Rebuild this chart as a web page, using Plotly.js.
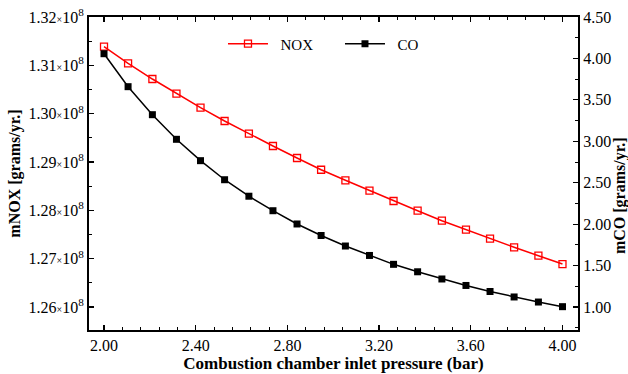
<!DOCTYPE html>
<html>
<head>
<meta charset="utf-8">
<script src="https://cdn.plot.ly/plotly-3.0.1.min.js"></script>
<style>html,body{margin:0;padding:0;background:#fff;}#chart{width:628px;height:374px;}</style>
</head>
<body>
<div id="chart"></div>
<script>
// Combustion chamber inlet pressure (bar): 20 points from 2.00 to 4.00
const pressure = [2.000, 2.105, 2.211, 2.316, 2.421, 2.526, 2.632, 2.737, 2.842, 2.947,
                  3.053, 3.158, 3.263, 3.368, 3.474, 3.579, 3.684, 3.789, 3.895, 4.000];
// mNOX [grams/yr.]
const nox = [1.31385e8, 1.31042e8, 1.30717e8, 1.30413e8, 1.30123e8, 1.29848e8, 1.29585e8, 1.29331e8, 1.29083e8, 1.28840e8,
             1.28621e8, 1.28406e8, 1.28193e8, 1.27992e8, 1.27785e8, 1.27599e8, 1.27413e8, 1.27235e8, 1.27061e8, 1.26889e8];
// mCO [grams/yr.]
const co = [4.057, 3.659, 3.321, 3.024, 2.766, 2.536, 2.337, 2.162, 2.002, 1.863,
            1.736, 1.622, 1.515, 1.425, 1.338, 1.260, 1.187, 1.121, 1.060, 1.004];
const noxTickVals = [1.26e8, 1.27e8, 1.28e8, 1.29e8, 1.30e8, 1.31e8, 1.32e8];
const noxTickMant = ["1.26", "1.27", "1.28", "1.29", "1.30", "1.31", "1.32"];
const noxTickText = noxTickMant.map(m => m + "<span style='font-size:10px'>×</span>10<sup>8</sup>");
const seriesNames = ["\u00a0\u00a0NOX", "\u00a0\u00a0CO"];

const FONT = "Liberation Serif, Times New Roman, serif";

const traces = [
  {
    x: pressure, y: nox, name: seriesNames[0], type: "scatter", mode: "lines+markers",
    line: {color: "#ff0000", width: 1.5},
    marker: {symbol: "square-open", size: 7, color: "#ff0000", line: {width: 1.3, color: "#ff0000"}},
    yaxis: "y"
  },
  {
    x: pressure, y: co, name: seriesNames[1], type: "scatter", mode: "lines+markers",
    line: {color: "#000000", width: 1.5},
    marker: {symbol: "square", size: 7, color: "#000000"},
    yaxis: "y2"
  }
];

const layout = {
  width: 628, height: 374,
  margin: {l: 89, r: 50, t: 17, b: 44, pad: 0},
  paper_bgcolor: "#ffffff", plot_bgcolor: "#ffffff",
  font: {family: FONT, size: 16, color: "#000"},
  showlegend: true,
  legend: {
    orientation: "h", x: 0.274, y: 0.914, xanchor: "left", yanchor: "middle",
    font: {family: FONT, size: 15, color: "#000"}, bgcolor: "rgba(0,0,0,0)",
    itemwidth: 40, entrywidth: 62
  },
  xaxis: {
    range: [1.9345, 4.0677], tickmode: "linear", tick0: 2, dtick: 0.4, tickformat: ".2f",
    ticks: "inside", ticklen: 5, tickwidth: 1.2, tickcolor: "#000",
    minor: {tickmode: "linear", tick0: 2, dtick: 0.08, ticks: "inside", ticklen: 3, tickwidth: 1, tickcolor: "#000"},
    showline: true, linecolor: "#000", linewidth: 2, mirror: "ticks",
    showgrid: false, zeroline: false,
    tickfont: {family: FONT, size: 16},
    title: {text: "<b>Combustion chamber inlet pressure (bar)</b>", font: {family: FONT, size: 17}, standoff: 0}
  },
  yaxis: {
    range: [1.25524e8, 1.32e8], tickmode: "array", tickvals: noxTickVals, ticktext: noxTickText,
    ticks: "inside", ticklen: 5, tickwidth: 1.2, tickcolor: "#000",
    minor: {tickmode: "linear", tick0: 1.26e8, dtick: 0.005e8, ticks: "inside", ticklen: 3, tickwidth: 1, tickcolor: "#000"},
    showline: true, linecolor: "#000", linewidth: 2,
    showgrid: false, zeroline: false,
    tickfont: {family: FONT, size: 16},
    title: {text: "<b>mNOX [grams/yr.]</b>", font: {family: FONT, size: 16}, standoff: 4}
  },
  yaxis2: {
    overlaying: "y", side: "right",
    range: [0.7224, 4.5], tickmode: "linear", tick0: 1, dtick: 0.5, tickformat: ".2f",
    ticks: "inside", ticklen: 5, tickwidth: 1.2, tickcolor: "#000",
    minor: {tickmode: "linear", tick0: 1, dtick: 0.25, ticks: "inside", ticklen: 3, tickwidth: 1, tickcolor: "#000"},
    showline: true, linecolor: "#000", linewidth: 2,
    showgrid: false, zeroline: false,
    tickfont: {family: FONT, size: 16}
  },
  annotations: [{
    text: "<b>mCO [grams/yr.]</b>", xref: "paper", yref: "paper",
    x: 1.0859, y: 0.428, xanchor: "center", yanchor: "middle",
    textangle: -90, showarrow: false, font: {family: FONT, size: 16, color: "#000"}
  }]
};

Plotly.newPlot("chart", traces, layout, {displayModeBar: false, staticPlot: true});
</script>
</body>
</html>
